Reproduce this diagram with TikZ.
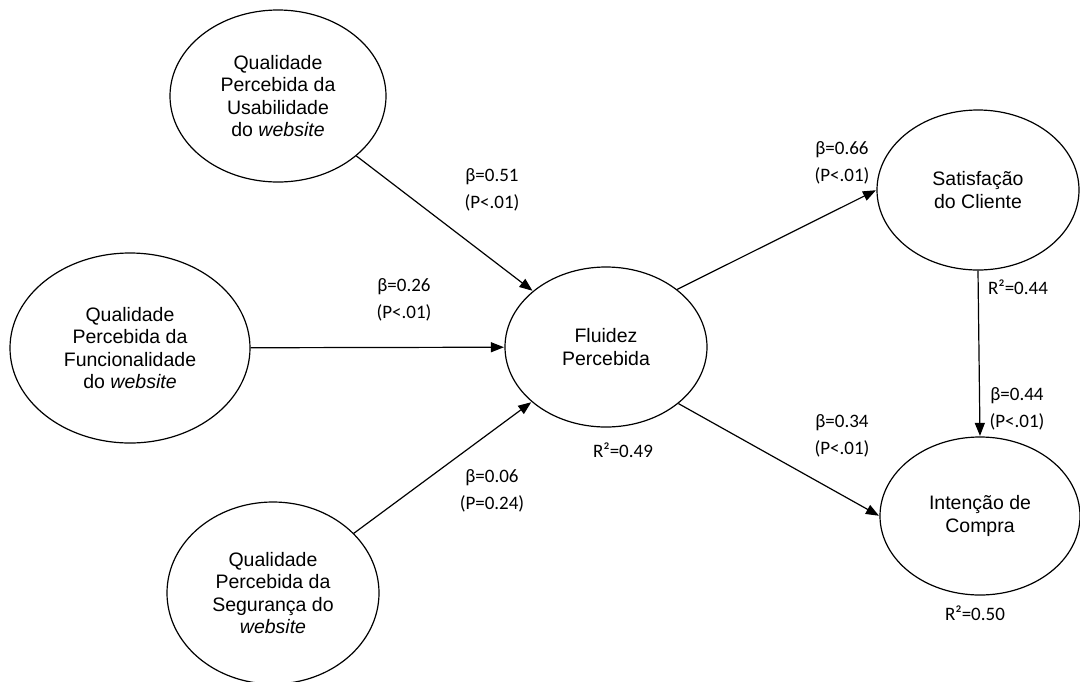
\documentclass[tikz,border=0pt]{standalone}
\usepackage{fontspec}
\setmainfont{Liberation Sans}
\newfontfamily\labfont{Carlito}
\usetikzlibrary{shapes.geometric,arrows.meta}
\begin{document}
\begin{tikzpicture}[x=1pt,y=-1pt,
  latent/.style={draw,ellipse,line width=1.2pt,inner sep=0pt,align=center,
    font=\fontsize{19.5}{22.5}\selectfont},
  coef/.style={align=center,inner sep=0pt,font=\labfont\fontsize{19}{27}\selectfont},
  path/.style={line width=1.2pt,-{Triangle[length=13pt,width=10pt]},shorten >=0.5pt}]
\useasboundingbox (0,0) rectangle (1080,681);
\node[latent,minimum width=216pt,minimum height=172pt] (A) at (278,96)
  {Qualidade\\Percebida da\\Usabilidade\\do \textit{website}};
\node[latent,minimum width=240pt,minimum height=190pt] (B) at (130,348)
  {Qualidade\\Percebida da\\Funcionalidade\\do \textit{website}};
\node[latent,minimum width=212pt,minimum height=182pt] (C) at (273,593)
  {Qualidade\\Percebida da\\Segurança do\\\textit{website}};
\node[latent,minimum width=202pt,minimum height=160pt] (F) at (606,347)
  {Fluidez\\Percebida};
\node[latent,minimum width=202pt,minimum height=160pt] (S) at (978,190)
  {Satisfação\\do Cliente};
\node[latent,minimum width=200pt,minimum height=158pt] (I) at (980,516)
  {Intenção de\\Compra};

\draw[path] (A) -- (F);
\draw[path] (B) -- (F);
\draw[path] (C) -- (F);
\draw[path] (F.39) -- (S.west);
\draw[path] (F.-38) -- (I.west);
\draw[path] (S.south) -- (I.north);

\node[coef] (l1) at (492,190) {β=0.51\\(P<.01)};
\node[coef] (l2) at (404,300) {β=0.26\\(P<.01)};
\node[coef] (l3) at (492,491) {β=0.06\\(P=0.24)};
\node[coef] (r1) at (623,450) {R²=0.49};
\node[coef] (l4) at (842,163) {β=0.66\\(P<.01)};
\node[coef] (l5) at (842,436) {β=0.34\\(P<.01)};
\node[coef] (r2) at (1018,287) {R²=0.44};
\node[coef] (l6) at (1017,409) {β=0.44\\(P<.01)};
\node[coef] (r3) at (975,613) {R²=0.50};
\end{tikzpicture}
\end{document}
